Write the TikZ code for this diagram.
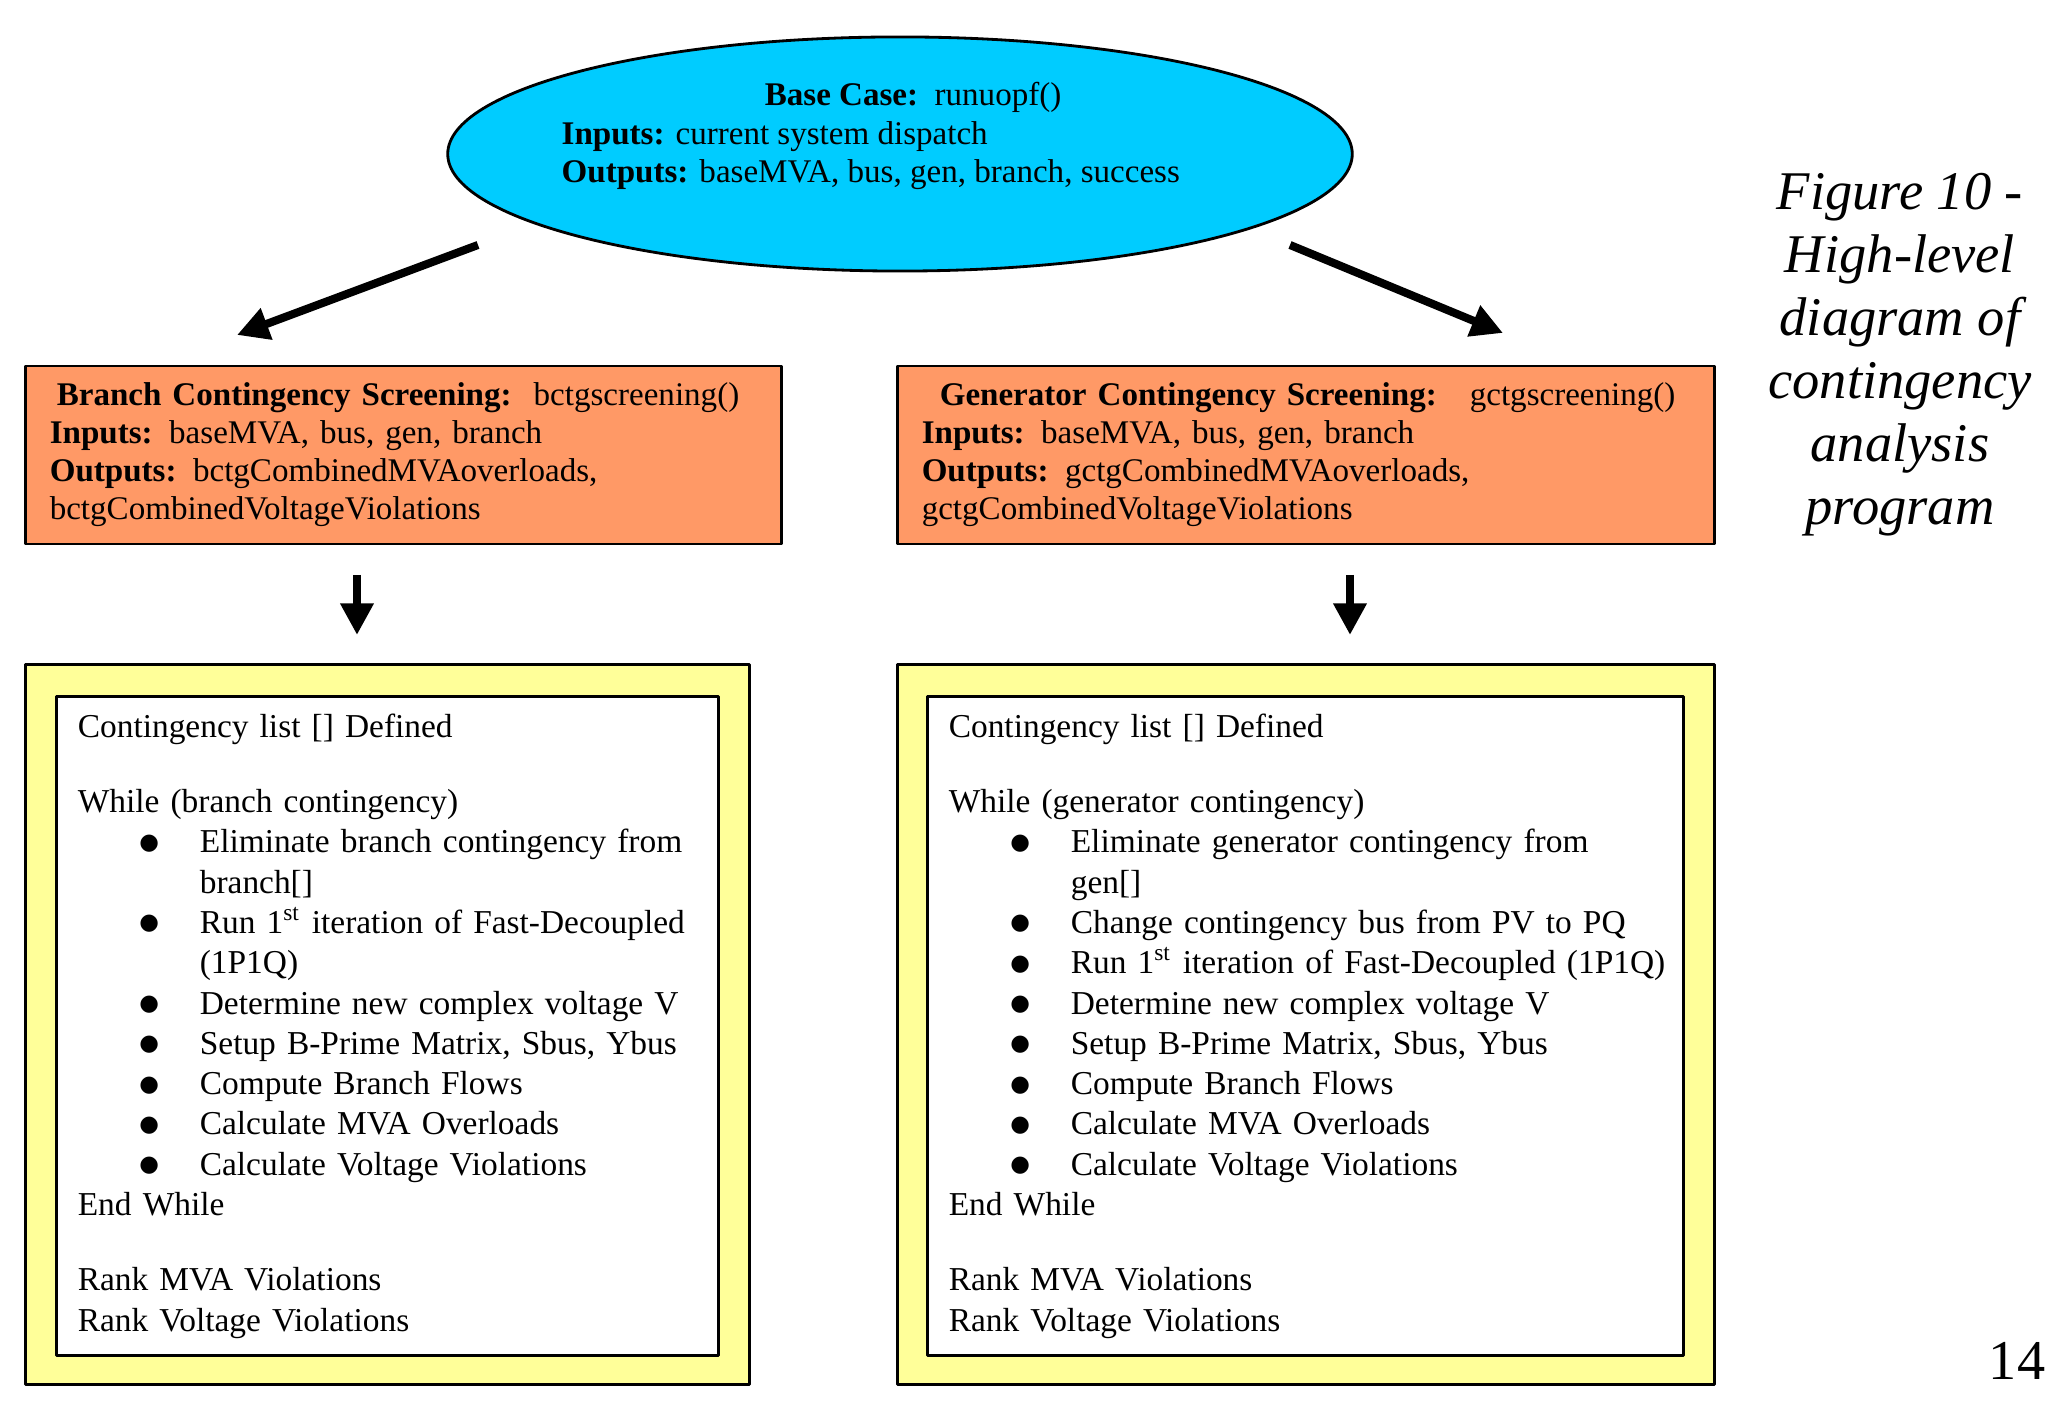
\documentclass[tikz,border=0pt]{standalone}
\usepackage{fontspec}
\setmainfont{Liberation Serif}
\newfontfamily\dejavu{DejaVu Sans}
\usetikzlibrary{shapes.geometric,arrows.meta}
\definecolor{basecyan}{RGB}{0,204,255}
\definecolor{screenorange}{RGB}{255,153,102}
\definecolor{loopyellow}{RGB}{255,255,153}
\newcommand{\itm}[1]{\hspace*{17.5pt}\makebox[17.2pt][l]{\raisebox{1pt}{\dejavu\fontsize{6.4}{6.4}\selectfont ●}}\mbox{#1}}
\newcommand{\cnt}[1]{\hspace*{34.7pt}#1}

\begin{document}
\begin{tikzpicture}[x=0.01cm,y=-0.01cm,line join=round,
		bigarrow/.style={-{Triangle[length=9pt,width=9pt]},line width=2.3pt},
		screenbox/.style={draw,fill=screenorange,line width=0.8pt,minimum height=1.78cm,inner xsep=0.24cm,align=left,font=\fontsize{9.4}{10.8}\selectfont},
		loopbox/.style={draw,fill=loopyellow,line width=0.8pt,minimum height=7.19cm},
		listbox/.style={draw,fill=white,line width=0.8pt,minimum height=6.58cm,inner xsep=0.21cm,align=left,font=\fontsize{9.5}{11.45}\selectfont}]
	\useasboundingbox (0,0) rectangle (2047,1404);
	\node[ellipse,draw,fill=basecyan,line width=0.8pt,minimum width=9.04cm,minimum height=2.34cm,inner sep=0pt] (base) at (900,154) {};
	\node[anchor=west,inner sep=0pt,align=left,font=\fontsize{9.4}{10.9}\selectfont] (basetxt) at (561,136) {\hspace*{2.03cm}\textbf{Base Case:}\ \ runuopf()\\\textbf{Inputs:} current system dispatch\\\textbf{Outputs:} baseMVA, bus, gen, branch, success};
	\node[screenbox,text width=7.07cm] (bsc) at (403.5,455) {\mbox{\hspace*{0.07cm}\textbf{Branch Contingency Screening:}\ \ bctgscreening()}\\\textbf{Inputs:} baseMVA, bus, gen, branch\\\textbf{Outputs:} bctgCombinedMVAoverloads,\\bctgCombinedVoltageViolations};
	\node[screenbox,text width=7.68cm] (gsc) at (1306,455) {\mbox{\hspace*{0.18cm}\textbf{Generator Contingency Screening:}\ \ \ gctgscreening()}\\\textbf{Inputs:} baseMVA, bus, gen, branch\\\textbf{Outputs:} gctgCombinedMVAoverloads,\\gctgCombinedVoltageViolations};
	\node[loopbox,minimum width=7.23cm] (bloop) at (387.5,1024.5) {};
	\node[loopbox,minimum width=8.16cm] (gloop) at (1306,1024.5) {};
	\node[listbox,text width=6.19cm] (blist) at (387.5,1026) {Contingency list [] Defined\\[10pt]
		While (branch contingency)\\
		\itm{Eliminate branch contingency from}\\
		\cnt{branch[]}\\
		\itm{Run 1\textsuperscript{st} iteration of Fast-Decoupled}\\
		\cnt{(1P1Q)}\\
		\itm{Determine new complex voltage V}\\
		\itm{Setup B-Prime Matrix, Sbus, Ybus}\\
		\itm{Compute Branch Flows}\\
		\itm{Calculate MVA Overloads}\\
		\itm{Calculate Voltage Violations}\\
		End While\\[10pt]
		Rank MVA Violations\\
		Rank Voltage Violations};
	\node[listbox,text width=7.13cm] (glist) at (1305.5,1026) {Contingency list [] Defined\\[10pt]
		While (generator contingency)\\
		\itm{Eliminate generator contingency from}\\
		\cnt{gen[]}\\
		\itm{Change contingency bus from PV to PQ}\\
		\itm{Run 1\textsuperscript{st} iteration of Fast-Decoupled (1P1Q)}\\
		\itm{Determine new complex voltage V}\\
		\itm{Setup B-Prime Matrix, Sbus, Ybus}\\
		\itm{Compute Branch Flows}\\
		\itm{Calculate MVA Overloads}\\
		\itm{Calculate Voltage Violations}\\
		End While\\[10pt]
		Rank MVA Violations\\
		Rank Voltage Violations};
	\coordinate (b1) at (478,245);
	\coordinate (b2) at (237,335);
	\coordinate (g1) at (1290,245);
	\coordinate (g2) at (1503,333);
	\coordinate (b3) at (357,575);
	\coordinate (b4) at (357,635);
	\coordinate (g3) at (1350,575);
	\coordinate (g4) at (1350,635);
	\draw[bigarrow] (b1)--(b2);
	\draw[bigarrow] (g1)--(g2);
	\draw[bigarrow] (b3)--(b4);
	\draw[bigarrow] (g3)--(g4);
	\node[font=\fontsize{15.5}{17.9}\selectfont\itshape,align=center] (caption) at (1900,355) {Figure 10 -\\High-level\\diagram of\\contingency\\analysis\\program};
	\node[font=\fontsize{16}{19}\selectfont] (pagenum) at (2017,1361) {14};
\end{tikzpicture}
\end{document}
